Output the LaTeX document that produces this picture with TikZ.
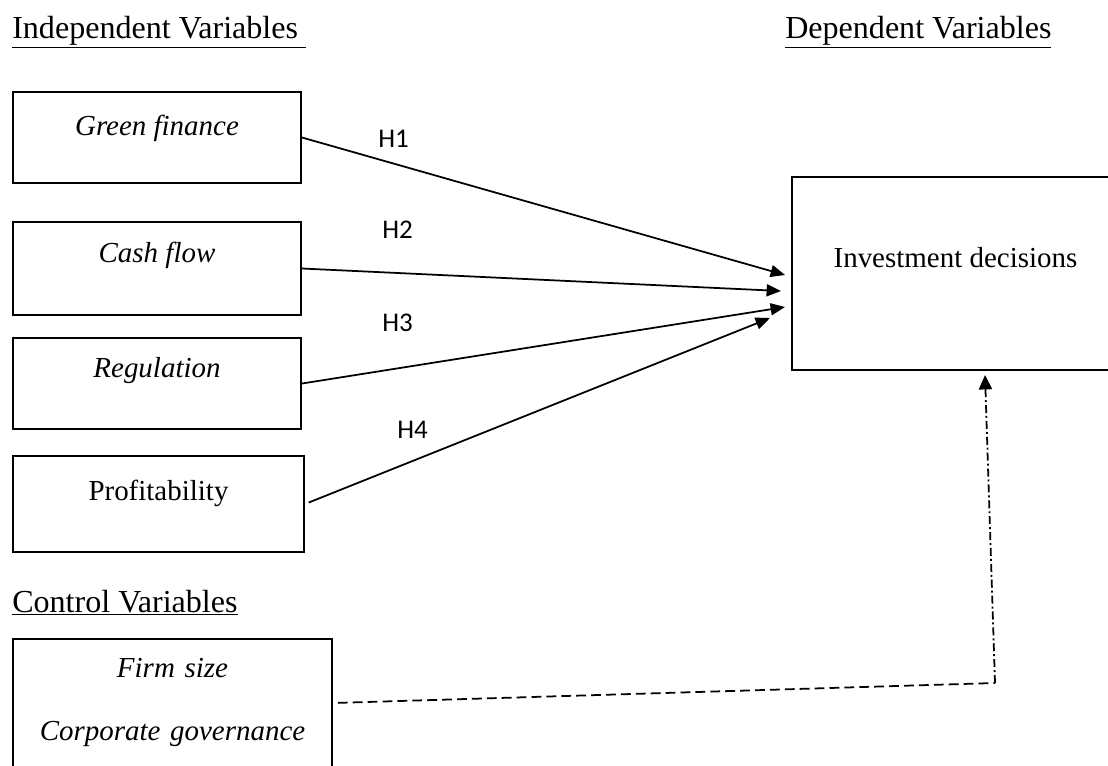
\documentclass[tikz,border=0pt]{standalone}
\usepackage{fontspec}
\setmainfont{Liberation Serif}
\newfontfamily\hypfont{Carlito}
\usetikzlibrary{arrows.meta}

\begin{document}
\begin{tikzpicture}[x=0.025cm, y=-0.025cm,
  varbox/.style={draw, line width=1.4pt, inner sep=0pt, anchor=base, font=\fontsize{20.6}{24}\selectfont},
  heading/.style={anchor=base west, inner sep=0pt, font=\fontsize{22.8}{26}\selectfont},
  hyp/.style={anchor=base west, inner sep=0pt, font=\hypfont\fontsize{19.2}{22}\selectfont},
  arrow/.style={line width=1.25pt, -{Triangle[length=0.36cm, width=0.3cm]}},
  ctrlline/.style={line width=1.25pt, dash pattern=on 7pt off 3.6pt},
  ctrlarrow/.style={line width=1.25pt, dash pattern=on 5.7pt off 2.1pt on 1.4pt off 2.1pt, -{Triangle[length=0.36cm, width=0.33cm]}},
  ]
\useasboundingbox (0,0) rectangle (1108,765);
\clip (0,0) rectangle (1108,765);

%Headings
\node [heading] (indep) at (12,38) {\underline{Independent Variables\ }};
\node [heading] (dep) at (785,38) {\underline{Dependent Variables}};
\node [heading] (ctrl) at (12,612) {\underline{Control Variables}};

%Independent variables
\node [varbox, minimum width=7.2cm, text height=1.075cm, text depth=1.2cm] (gf) at (157,135) {\textit{Green finance}};
\node [varbox, minimum width=7.2cm, text height=1cm, text depth=1.325cm] (cf) at (157,262) {\textit{Cash flow}};
\node [varbox, minimum width=7.2cm, text height=0.975cm, text depth=1.3cm] (rg) at (157,377) {\textit{Regulation}};
\node [varbox, minimum width=7.275cm, text height=1.1cm, text depth=1.3cm] (pf) at (158.5,500) {Profitability};

%Dependent variable
\node [varbox, minimum width=8.175cm, text height=2.25cm, text depth=2.575cm] (inv) at (955.5,267) {Investment decisions};

%Control variables
\node [varbox, text width=7.975cm, align=center, text height=0.95cm, text depth=2.25cm] (ctl) at (172.5,677) {\textit{Firm size}\\[20.8pt]\textit{Corporate governance}};

%Hypotheses
\node [hyp] (h1) at (378,147) {H1};
\node [hyp] (h2) at (382,238) {H2};
\node [hyp] (h3) at (382,331) {H3};
\node [hyp] (h4) at (397,438) {H4};

\coordinate (t1) at (785,275);
\coordinate (t2) at (781,291);
\coordinate (t3) at (785,307);
\coordinate (t4) at (770,318);
\coordinate (c1) at (995,683);
\coordinate (t5) at (985,375);

\draw [arrow] (gf.east) to (t1);
\draw [arrow] (cf.east) to (t2);
\draw [arrow] (rg.east) to (t3);
\draw [arrow, shorten <=0.1cm] (pf.east) to (t4);

%Control path
\draw [ctrlline, shorten <=0.12cm] (ctl.east) to (c1);
\draw [ctrlarrow] (c1) to (t5);
\end{tikzpicture}
\end{document}
